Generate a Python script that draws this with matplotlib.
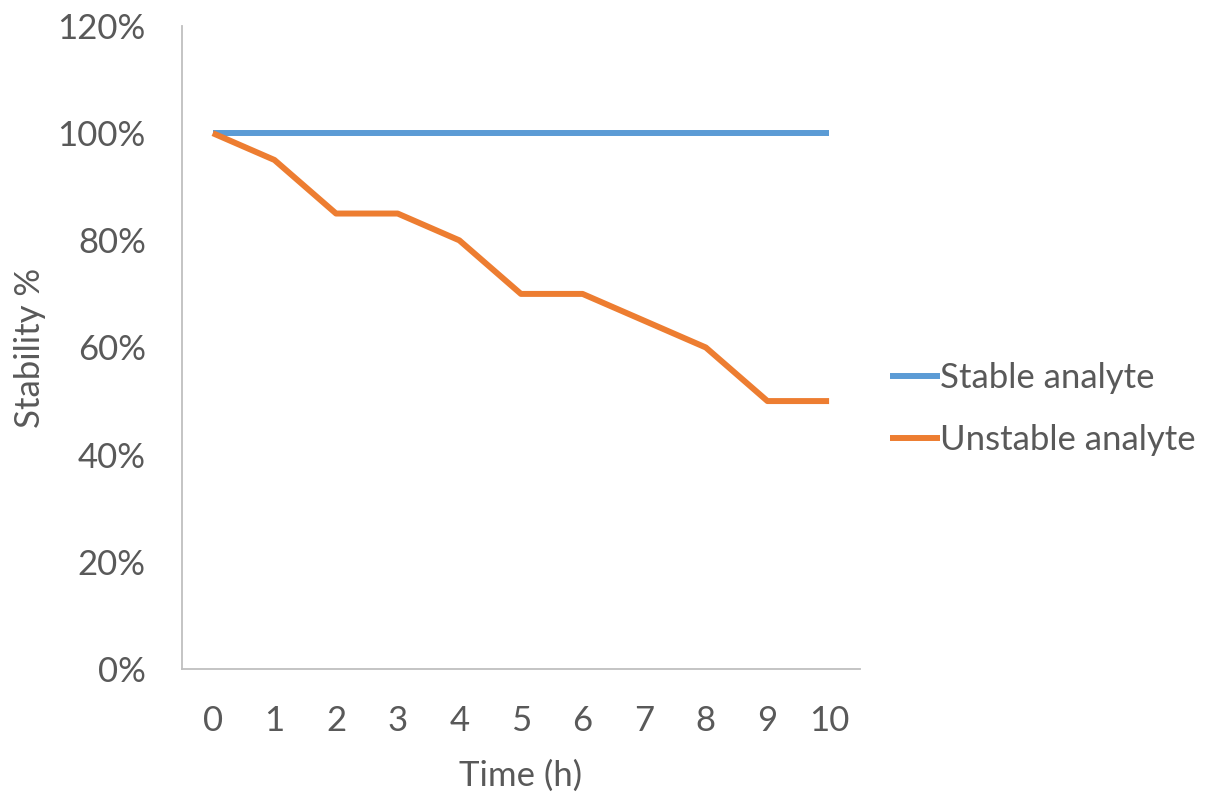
import matplotlib
matplotlib.use("Agg")
import matplotlib.pyplot as plt
from matplotlib.ticker import PercentFormatter

hours = [0, 1, 2, 3, 4, 5, 6, 7, 8, 9, 10]
stable = [100, 100, 100, 100, 100, 100, 100, 100, 100, 100, 100]
unstable = [100, 95, 85, 85, 80, 70, 70, 65, 60, 50, 50]
y_ticks = [0, 20, 40, 60, 80, 100, 120]

grey = "#595959"
fs = 25
plt.rcParams['font.family'] = ['Lato', 'DejaVu Sans']

fig = plt.figure(figsize=(12.18, 7.98), dpi=100)
ax = fig.add_axes([0.1494, 0.1617, 0.5566, 0.8057])

ax.plot(hours, stable, color="#5B9BD5", lw=4.3, label="Stable analyte", solid_capstyle="butt")
ax.plot(hours, unstable, color="#ED7D31", lw=4.3, label="Unstable analyte", solid_capstyle="butt")

ax.set_xlim(-0.5, 10.5)
ax.set_ylim(0, 120)
ax.set_xticks(hours)
ax.set_yticks(y_ticks)
ax.yaxis.set_major_formatter(PercentFormatter(decimals=0))
ax.tick_params(axis="both", length=0, labelsize=fs, colors=grey)
ax.tick_params(axis="x", pad=26)
ax.tick_params(axis="y", pad=26)

for s in ["top", "right"]:
    ax.spines[s].set_visible(False)
for s in ["left", "bottom"]:
    ax.spines[s].set_color("#BFBFBF")
    ax.spines[s].set_linewidth(1.3)

ax.set_xlabel("Time (h)", fontsize=fs, color=grey, labelpad=16)
ax.set_ylabel("Stability %", fontsize=fs, color=grey, labelpad=8)

leg = fig.legend(loc="center left", bbox_to_anchor=(0.705, 0.4875), frameon=False,
                 fontsize=fs, handlelength=1.44, handletextpad=0.0, labelspacing=0.87)
for t in leg.get_texts():
    t.set_color(grey)

fig.savefig("out.png", dpi=100)
